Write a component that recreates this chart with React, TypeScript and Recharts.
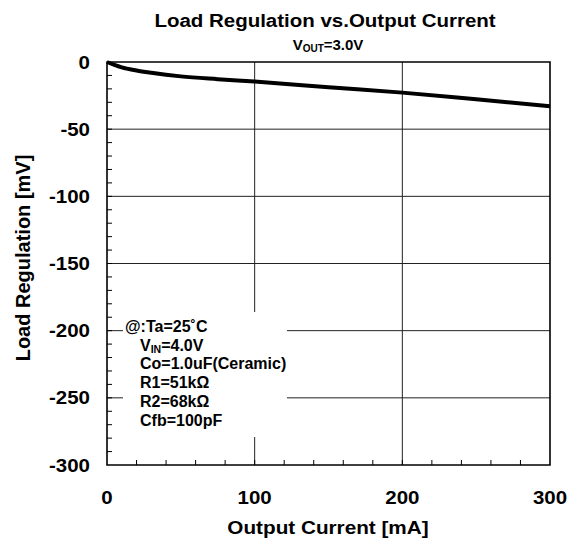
import React from 'react';
import { LineChart, Line, XAxis, YAxis, CartesianGrid, ReferenceArea } from 'recharts';

const currents = [0, 5, 10, 20, 30, 50, 75, 100, 150, 200, 250, 300];
const regulation = [0, -2.1, -4.0, -6.3, -8.0, -10.7, -12.8, -14.6, -18.8, -22.8, -27.8, -33.0];
const xTicks = [0, 20, 40, 60, 80, 100, 120, 140, 160, 180, 200, 220, 240, 260, 280, 300];
const xLabelTicks = [0, 100, 200, 300];
const yTicks = [0, -10, -20, -30, -40, -50, -60, -70, -80, -90, -100, -110, -120, -130, -140, -150, -160, -170, -180, -190, -200, -210, -220, -230, -240, -250, -260, -270, -280, -290, -300];
const yLabelTicks = [0, -50, -100, -150, -200, -250, -300];
const gridY = [-50, -100, -150, -200, -250];
const gridX = [100, 200];
const notes = ['@:Ta=25˚C', 'VIN=4.0V', 'Co=1.0uF(Ceramic)', 'R1=51kΩ', 'R2=68kΩ', 'Cfb=100pF'];

const data = currents.map((c, i) => ({ x: c, y: regulation[i] }));
const FONT = '"Liberation Sans", Arial, Helvetica, sans-serif';
const SX = 1.12;

const XTick = (props: any) => {
  const { x, y, payload } = props;
  const v = payload.value;
  return (
    <g>
      {v !== 0 && v !== 300 && <line x1={x} x2={x} y1={y} y2={y - 5} stroke="#000" strokeWidth={1} />}
      {xLabelTicks.includes(v) && (
        <text
          x={0}
          y={0}
          transform={`translate(${x},${y + 39}) scale(${SX},1)`}
          textAnchor="middle"
          fontFamily={FONT}
          fontWeight="bold"
          fontSize={18.3}
          fill="#000"
        >
          {v}
        </text>
      )}
    </g>
  );
};

const YTick = (props: any) => {
  const { x, y, payload } = props;
  const v = payload.value;
  return (
    <g>
      {v !== 0 && v !== -300 && <line x1={x} x2={x + 5} y1={y} y2={y} stroke="#000" strokeWidth={1} />}
      {yLabelTicks.includes(v) && (
        <text
          x={0}
          y={0}
          transform={`translate(${x - 17},${y + 6.6}) scale(${SX},1)`}
          textAnchor="end"
          fontFamily={FONT}
          fontWeight="bold"
          fontSize={18.3}
          fill="#000"
        >
          {v}
        </text>
      )}
    </g>
  );
};

export default function App() {
  return (
    <div style={{ position: 'absolute', left: 0, top: 0, width: 576, height: 539, background: '#fff' }}>
      <LineChart width={576} height={539} data={data} margin={{ top: 62, right: 26, left: 0, bottom: 0 }}>
        <CartesianGrid horizontalValues={gridY} verticalValues={gridX} stroke="#222" strokeWidth={1} />
        <XAxis
          dataKey="x"
          type="number"
          domain={[0, 300]}
          ticks={xTicks}
          interval={0}
          tickLine={false}
          axisLine={false}
          tickSize={0}
          tickMargin={0}
          height={74}
          tick={<XTick />}
        />
        <YAxis
          type="number"
          domain={[-300, 0]}
          ticks={yTicks}
          interval={0}
          tickLine={false}
          axisLine={false}
          tickSize={0}
          tickMargin={0}
          width={107}
          tick={<YTick />}
        />
        <ReferenceArea x1={0} x2={300} y1={-300} y2={0} fill="none" stroke="#000" strokeWidth={1.6} ifOverflow="visible" />
        <Line type="monotone" dataKey="y" stroke="#000" strokeWidth={4} dot={false} isAnimationActive={false} />
      </LineChart>
      <svg width={576} height={539} style={{ position: 'absolute', left: 0, top: 0, pointerEvents: 'none' }}>
        <text
          x={0}
          y={0}
          transform={`translate(325,27) scale(${SX},1)`}
          textAnchor="middle"
          fontFamily={FONT}
          fontWeight="bold"
          fontSize={18.3}
          fill="#000"
        >
          Load Regulation vs.Output Current
        </text>
        <text x={328} y={50} textAnchor="middle" fontFamily={FONT} fontWeight="bold" fontSize={15} fill="#000">
          V<tspan fontSize={10} dy={2}>OUT</tspan>
          <tspan dy={-2}>=3.0V</tspan>
        </text>
        <text
          x={0}
          y={0}
          transform={`translate(328,534) scale(${SX},1)`}
          textAnchor="middle"
          fontFamily={FONT}
          fontWeight="bold"
          fontSize={18.5}
          fill="#000"
        >
          Output Current [mA]
        </text>
        <text
          x={0}
          y={0}
          transform="translate(30,258) rotate(-90)"
          textAnchor="middle"
          fontFamily={FONT}
          fontWeight="bold"
          fontSize={20}
          fill="#000"
        >
          Load Regulation [mV]
        </text>
        <rect x={123} y={312} width={164} height={125} fill="#fff" />
        <text x={125} y={332} fontFamily={FONT} fontWeight="bold" fontSize={16} fill="#000">{notes[0]}</text>
        <text x={140} y={351} fontFamily={FONT} fontWeight="bold" fontSize={16} fill="#000">
          V<tspan fontSize={10.5} dy={2}>IN</tspan>
          <tspan dy={-2}>=4.0V</tspan>
        </text>
        <text x={140} y={369} fontFamily={FONT} fontWeight="bold" fontSize={16} fill="#000">{notes[2]}</text>
        <text x={140} y={388} fontFamily={FONT} fontWeight="bold" fontSize={16} fill="#000">{notes[3]}</text>
        <text x={140} y={407} fontFamily={FONT} fontWeight="bold" fontSize={16} fill="#000">{notes[4]}</text>
        <text x={140} y={426} fontFamily={FONT} fontWeight="bold" fontSize={16} fill="#000">{notes[5]}</text>
      </svg>
    </div>
  );
}
